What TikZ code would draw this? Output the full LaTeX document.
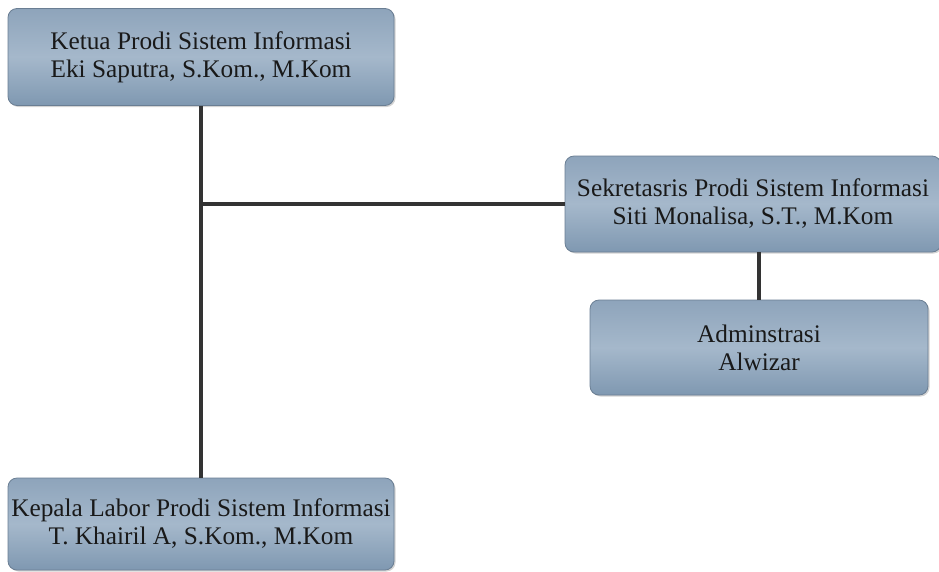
\documentclass[tikz,border=0pt]{standalone}
\usepackage{fontspec}
\setmainfont{Liberation Serif}
\usetikzlibrary{shadows}
\definecolor{boxtop}{HTML}{8EA4BB}
\definecolor{boxmid}{HTML}{A5B8CB}
\definecolor{boxbot}{HTML}{7F98B1}
\definecolor{boxline}{HTML}{6A7E93}
\definecolor{conn}{HTML}{333333}
\tikzset{
  orgbox/.style={draw=boxline, line width=0.8pt, rounded corners=9pt,
    top color=boxtop, bottom color=boxbot, middle color=boxmid,
    drop shadow={shadow xshift=1.5pt, shadow yshift=-1.5pt, opacity=0.35},
    align=center, inner sep=0pt, font=\fontsize{25.3}{28}\selectfont, text=black!90},
  conn/.style={draw=conn, line width=3.5pt}
}
\begin{document}
\begin{tikzpicture}[x=1pt,y=-1pt]
\useasboundingbox (0,0) rectangle (939,571);
\node[orgbox, minimum width=386pt, minimum height=97pt] (ketua) at (201,57)
  {Ketua Prodi Sistem Informasi\\Eki Saputra, S.Kom., M.Kom};
\node[orgbox, minimum width=376pt, minimum height=96pt] (sek) at (753,204)
  {Sekretasris Prodi Sistem Informasi\\Siti Monalisa, S.T., M.Kom};
\node[orgbox, minimum width=338pt, minimum height=95pt] (adm) at (759,347.5)
  {Adminstrasi\\Alwizar};
\node[orgbox, minimum width=386pt, minimum height=92pt] (labor) at (201,524)
  {Kepala Labor Prodi Sistem Informasi\\T. Khairil A, S.Kom., M.Kom};
\coordinate (j) at (ketua.south |- sek.west);
\draw[conn] (ketua.south) -- (labor.north);
\draw[conn] (j) -- (sek.west);
\draw[conn] (sek.south -| adm.north) -- (adm.north);
\end{tikzpicture}
\end{document}
